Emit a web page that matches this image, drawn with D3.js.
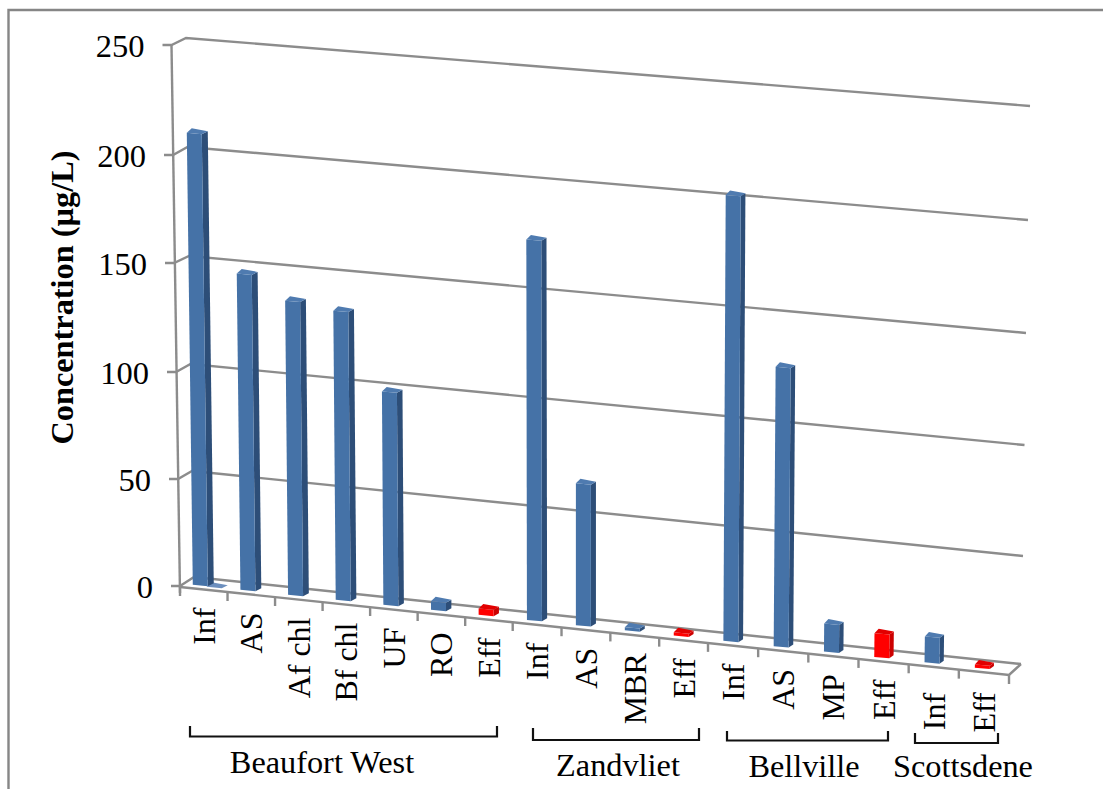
<!DOCTYPE html>
<html>
<head>
<meta charset="utf-8">
<script src="https://cdn.jsdelivr.net/npm/d3@7/dist/d3.min.js"></script>
<style>
html,body{margin:0;padding:0;background:#fff;overflow:hidden}
text{font-family:"Liberation Serif","Times New Roman",serif;fill:#000}
</style>
</head>
<body>
<svg id="c" width="1103" height="789"></svg>
<script>
const categories = ["Inf","AS","Af chl","Bf chl","UF","RO","Eff","Inf","AS","MBR","Eff","Inf","AS","MP","Eff","Inf","Eff"];
const values = [210,147.5,137,134.5,99.5,4,3,175,66,1.5,1.5,203,128,13,11,12,1.5];
const effluentFlags = [0,0,0,0,0,0,1,0,0,0,1,0,0,0,1,0,1];
const secondSeries = [0]; // the flat, zero-height bar beside the first column
const yTicks = [0,50,100,150,200,250];
const plants = ["Beaufort West","Zandvliet","Bellville","Scottsdene"];

const svg = d3.select("#c");
const GRID = "#8c8c8c";

// page frame
svg.append("path").attr("d","M8.5,789V10H1103").attr("fill","none").attr("stroke","#868686").attr("stroke-width",2.4);

// 3-D projection read as piecewise scales
const frontLeftY = d3.scaleLinear().domain(yTicks).range([586,479,372,263,155,45]);
const frontLeftX = d3.scaleLinear().domain(yTicks).range([180,178,176,174,173,171.5]);
const backLeftY  = d3.scaleLinear().domain(yTicks).range([577,471,364,256,147,38]);
const backLeftX  = d3.scaleLinear().domain(yTicks).range([194,192,190.5,189,187.5,186]);
const backRightY = d3.scaleLinear().domain(yTicks).range([664,556,445,333,220,106]);
const backRightX = d3.scaleLinear().domain(yTicks).range([1021,1023,1024.5,1026,1028,1030]);

const n = categories.length;
const xFront = d3.scaleLinear().domain([0,7,11,n]).range([180,512.7,708,1009]);
const floorY = d3.scaleLinear().domain([180,512.7,1009]).range([587,622,675]);
const span = d3.scaleLinear().domain([194,1021]).range([0,1]).clamp(true);

const line = d3.line();
const grid = svg.append("g").attr("fill","none").attr("stroke",GRID).attr("stroke-width",2.4);

// value-axis wall lines and ticks
yTicks.forEach(v=>{
  const fx=frontLeftX(v), fy=frontLeftY(v);
  grid.append("path").attr("d",line([[fx-9,fy],[fx,fy],[backLeftX(v),backLeftY(v)],[backRightX(v),backRightY(v)]]));
  svg.append("text").attr("x",fx-27).attr("y",fy+11.5).attr("text-anchor","end")
     .style("font-size","32.5px").text(v);
});
grid.append("path").attr("d",line([[frontLeftX(0),frontLeftY(0)+7],[frontLeftX(250),frontLeftY(250)]]));

// floor
grid.append("path").attr("d",line([[xFront(0),floorY(xFront(0))],[xFront(n),floorY(xFront(n))],[backRightX(0),backRightY(0)]]));
d3.range(n+1).forEach(i=>{
  const x=xFront(i), y=floorY(x);
  grid.append("path").attr("d",line([[x,y],[x,y+9]]));
});

// bars
const skew=(x,h)=>h*(x-581)/28700;
const pxHeight=(v,t)=>{
  const l=backLeftY(0)-backLeftY(v), r=backRightY(0)-backRightY(v);
  return l+(r-l)*t;
};
const W=15;
function drawBar(g,i,v,cols,shiftX,shiftY){
  const cx0=(xFront(i)+xFront(i+1))/2;
  const t=span(cx0);
  const cx=cx0-(3.5-2*t)+(shiftX||0);
  const base=floorY(cx0)-4+(shiftY||0);
  const h=pxHeight(v,t);
  const dTopL=5-1*t, dTopR=6-2*t, dy=3.5;
  const s=0.09;
  const BL=[cx-W/2,base-s*W/2], BR=[cx+W/2,base+s*W/2];
  const sk=skew(cx,h);
  const TL=[BL[0]+sk,BL[1]-h], TR=[BR[0]+sk,BR[1]-h];
  const TLb=[TL[0]+dTopL,TL[1]-dy-1], TRb=[TR[0]+dTopR,TR[1]-dy+0.5];
  const BRb=[BR[0]+dTopR,BR[1]-dy+0.5];
  if(h>0.01){
    g.append("path").attr("d",line([TR,TRb,BRb,BR])+"Z").attr("fill",cols.side);
    g.append("path").attr("d",line([BL,BR,TR,TL])+"Z").attr("fill",cols.front);
  }
  g.append("path").attr("d",line([TL,TR,TRb,TLb])+"Z").attr("fill",cols.top);
}
const blue={front:"#4572a7",side:"#2d4e78",top:"#4f7bb0"};
const red={front:"#ff0000",side:"#cc0000",top:"#e20000"};
const flat={top:"#6c8fbe"};
const bars=svg.append("g");
secondSeries.forEach((v,i)=>drawBar(bars,i,v,flat,14,2));
values.forEach((v,i)=>drawBar(bars,i,v,effluentFlags[i]?red:blue));

// category labels
const labelNudge={15:8,16:2};
categories.forEach((c,i)=>{
  const cx=(xFront(i)+xFront(i+1))/2;
  const lx=cx+11;
  const ly=floorY(cx)+18+(labelNudge[i]||0);
  svg.append("text").attr("transform",`translate(${lx},${ly}) rotate(-90)`)
     .attr("text-anchor","end").style("font-size","32px").text(c);
});

// plant brackets
const brackets=[[190,497,726,736.5],[533,699,728,740],[727,888,731,740.5],[915,998,733,743]];
const plantLabels=[[322,773],[618,776],[804,777],[963,777]];
brackets.forEach(([a,b,t,m])=>{
  svg.append("path").attr("d",`M${a},${t}V${m}H${b}V${t}`).attr("fill","none")
     .attr("stroke","#111").attr("stroke-width",2.2);
});
plants.forEach((p,i)=>{
  svg.append("text").attr("x",plantLabels[i][0]).attr("y",plantLabels[i][1]).attr("text-anchor","middle")
     .style("font-size","32.3px").text(p);
});

// axis title
svg.append("text").attr("transform","translate(73,297.5) rotate(-90)").attr("text-anchor","middle")
   .style("font-size","32.3px").style("font-weight","bold").text("Concentration (µg/L)");
</script>
</body>
</html>
